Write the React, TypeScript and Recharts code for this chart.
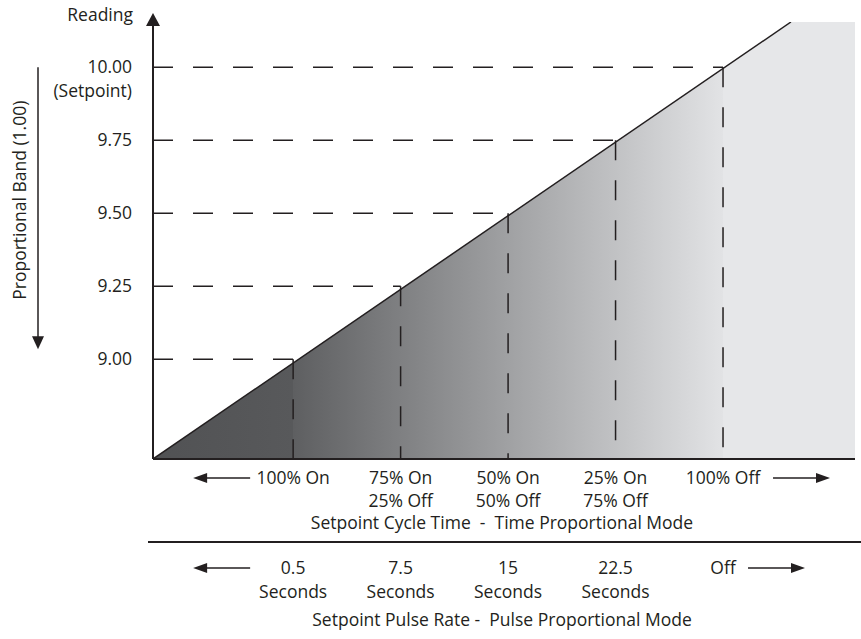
import {
	ComposedChart,
	Area,
	Line,
	XAxis,
	YAxis,
	ReferenceLine,
} from "recharts";

// reading along the control curve (x = reading, y = reading shown on the left scale)
const readingX = [8.674, 10.158, 10.307];
const shadedTop = [8.658, 10.155, 10.155];
const slopeEdge = [8.658, 10.155, null];

const readingTicks = [9.0, 9.25, 9.5, 9.75, 10.0];
const cycleOn = ["100% On", "75% On", "50% On", "25% On", "100% Off"];
const cycleOff = ["", "25% Off", "50% Off", "75% Off", ""];
const pulseValue = ["0.5", "7.5", "15", "22.5", "Off"];
const pulseUnit = ["Seconds", "Seconds", "Seconds", "Seconds", ""];

const X_DOMAIN: [number, number] = [8.674, 10.307];
const Y_DOMAIN: [number, number] = [8.658, 10.155];

const INK = "#231f20";
const FONT = "'Open Sans', sans-serif";
const FS = 17.5;

const data = readingX.map((x, i) => ({
	x,
	top: shadedTop[i],
	edge: slopeEdge[i],
}));

function arrow(x1: number, x2: number, y: number) {
	// head at x2
	const dir = x2 > x1 ? 1 : -1;
	return (
		<g>
			<line x1={x1} y1={y} x2={x2 - dir * 12} y2={y} stroke={INK} strokeWidth={1.5} />
			<polygon
				points={`${x2},${y} ${x2 - dir * 14},${y - 5} ${x2 - dir * 14},${y + 5}`}
				fill={INK}
			/>
		</g>
	);
}

function ReadingTick(props: any) {
	const { x, y, payload } = props;
	return (
		<text x={x} y={y} textAnchor="end" fontSize={FS} fill={INK} fontFamily={FONT}>
			<tspan x={x} dy={6}>
				{Number(payload.value).toFixed(2)}
			</tspan>
			{payload.value === 10 && (
				<tspan x={x} dy={24}>
					(Setpoint)
				</tspan>
			)}
		</text>
	);
}

function CycleTick(props: any) {
	const { x, y, index } = props;
	return (
		<g>
			<text x={x} y={y + 25} textAnchor="middle" fontSize={FS} fill={INK} fontFamily={FONT}>
				{cycleOn[index]}
			</text>
			{cycleOff[index] && (
				<text x={x} y={y + 48} textAnchor="middle" fontSize={FS} fill={INK} fontFamily={FONT}>
					{cycleOff[index]}
				</text>
			)}
			{index === 0 && arrow(x - 43, x - 100, y + 19)}
			{index === cycleOn.length - 1 && arrow(x + 50, x + 107, y + 19)}
		</g>
	);
}

function PulseTick(props: any) {
	const { x, y, index } = props;
	return (
		<g>
			<text x={x} y={y + 32} textAnchor="middle" fontSize={FS} fill={INK} fontFamily={FONT}>
				{pulseValue[index]}
			</text>
			{pulseUnit[index] && (
				<text x={x} y={y + 56} textAnchor="middle" fontSize={FS} fill={INK} fontFamily={FONT}>
					{pulseUnit[index]}
				</text>
			)}
			{index === 0 && arrow(x - 43, x - 100, y + 26)}
			{index === pulseValue.length - 1 && arrow(x + 25, x + 82, y + 26)}
		</g>
	);
}

function ReadingAxisLabel(props: any) {
	const { x, y, width, height } = props.viewBox;
	const ax = x + width;
	const yPos = (v: number) =>
		y + ((Y_DOMAIN[1] - v) / (Y_DOMAIN[1] - Y_DOMAIN[0])) * height;
	const top = yPos(10);
	const bottom = yPos(9) - 10;
	return (
		<g>
			<polygon points={`${ax},${y - 9} ${ax - 7},${y + 4} ${ax + 7},${y + 4}`} fill={INK} />
			<text x={ax - 20} y={y - 1} textAnchor="end" fontSize={FS} fill={INK} fontFamily={FONT}>
				Reading
			</text>
			<line x1={38} y1={top} x2={38} y2={bottom - 10} stroke={INK} strokeWidth={1.5} />
			<polygon points={`38,${bottom} 32,${bottom - 13} 44,${bottom - 13}`} fill={INK} />
			<text
				x={0}
				y={0}
				transform={`translate(26, ${(top + bottom) / 2 - 8}) rotate(-90)`}
				textAnchor="middle"
				fontSize={FS}
				fill={INK}
				fontFamily={FONT}
			>
				Proportional Band (1.00)
			</text>
		</g>
	);
}

function CycleTitle(props: any) {
	const { x, y, width } = props.viewBox;
	return (
		<text
			x={x + width / 2 - 2}
			y={y + 70}
			textAnchor="middle"
			fontSize={FS}
			fill={INK}
			fontFamily={FONT}
			style={{ whiteSpace: "pre" }}
		>
			{"Setpoint Cycle Time  -  Time Proportional Mode"}
		</text>
	);
}

function PulseTitle(props: any) {
	const { x, y, width } = props.viewBox;
	return (
		<g>
			<line x1={x - 5} y1={y} x2={x + width + 6} y2={y} stroke={INK} strokeWidth={2} />
			<text
				x={x + width / 2 - 2}
				y={y + 84}
				textAnchor="middle"
				fontSize={FS}
				fill={INK}
				fontFamily={FONT}
				style={{ whiteSpace: "pre" }}
			>
				{"Setpoint Pulse Rate -  Pulse Proportional Mode"}
			</text>
		</g>
	);
}

export default function App() {
	return (
		<div style={{ position: "absolute", left: 0, top: 0, background: "#fff" }}>
			<ComposedChart
				width={861}
				height={639}
				data={data}
				margin={{ top: 22, right: 6, bottom: 4, left: 0 }}
			>
				<defs>
					<linearGradient id="shade" x1="0" y1="0" x2="1" y2="0">
						<stop offset="0" stopColor="#515254" />
						<stop offset="0.2" stopColor="#58595b" />
						<stop offset="0.2" stopColor="#5e5f61" />
						<stop offset="0.812" stopColor="#e2e3e5" />
						<stop offset="0.812" stopColor="#e6e7e9" />
						<stop offset="1" stopColor="#e6e7e9" />
					</linearGradient>
				</defs>
				<XAxis
					xAxisId="main"
					dataKey="x"
					type="number"
					domain={X_DOMAIN}
					ticks={readingTicks}
					allowDataOverflow
					tickLine={false}
					tickSize={0}
					tickMargin={0}
					axisLine={{ stroke: INK, strokeWidth: 2 }}
					height={83}
					interval={0}
					tick={<CycleTick />}
					label={<CycleTitle />}
				/>
				<XAxis
					xAxisId="pulse"
					dataKey="x"
					type="number"
					domain={X_DOMAIN}
					ticks={readingTicks}
					allowDataOverflow
					tickLine={false}
					tickSize={0}
					tickMargin={0}
					axisLine={false}
					height={93}
					interval={0}
					tick={<PulseTick />}
					label={<PulseTitle />}
				/>
				<YAxis
					type="number"
					domain={Y_DOMAIN}
					ticks={readingTicks}
					allowDataOverflow
					width={153}
					tickLine={false}
					tickSize={0}
					tickMargin={21}
					axisLine={{ stroke: INK, strokeWidth: 2 }}
					interval={0}
					tick={<ReadingTick />}
					label={<ReadingAxisLabel />}
				/>
				<Area
					xAxisId="main"
					dataKey="top"
					type="linear"
					stroke="none"
					fill="url(#shade)"
					fillOpacity={1}
					isAnimationActive={false}
				/>
				{readingTicks.map((v) => (
					<ReferenceLine
						key={`h-${v}`}
						xAxisId="main"
						segment={[
							{ x: X_DOMAIN[0], y: v },
							{ x: v, y: v },
						]}
						stroke={INK}
						strokeWidth={1.5}
						strokeDasharray="20 20"
					/>
				))}
				{readingTicks.map((v) => (
					<ReferenceLine
						key={`v-${v}`}
						xAxisId="main"
						segment={[
							{ x: v, y: v },
							{ x: v, y: Y_DOMAIN[0] },
						]}
						stroke={INK}
						strokeWidth={1.5}
						strokeDasharray="20 20"
					/>
				))}
				<Line
					xAxisId="main"
					dataKey="edge"
					type="linear"
					stroke={INK}
					strokeWidth={1.5}
					dot={false}
					activeDot={false}
					isAnimationActive={false}
				/>
				<Line
					xAxisId="pulse"
					dataKey="edge"
					stroke="none"
					dot={false}
					activeDot={false}
					legendType="none"
					isAnimationActive={false}
				/>
			</ComposedChart>
		</div>
	);
}
